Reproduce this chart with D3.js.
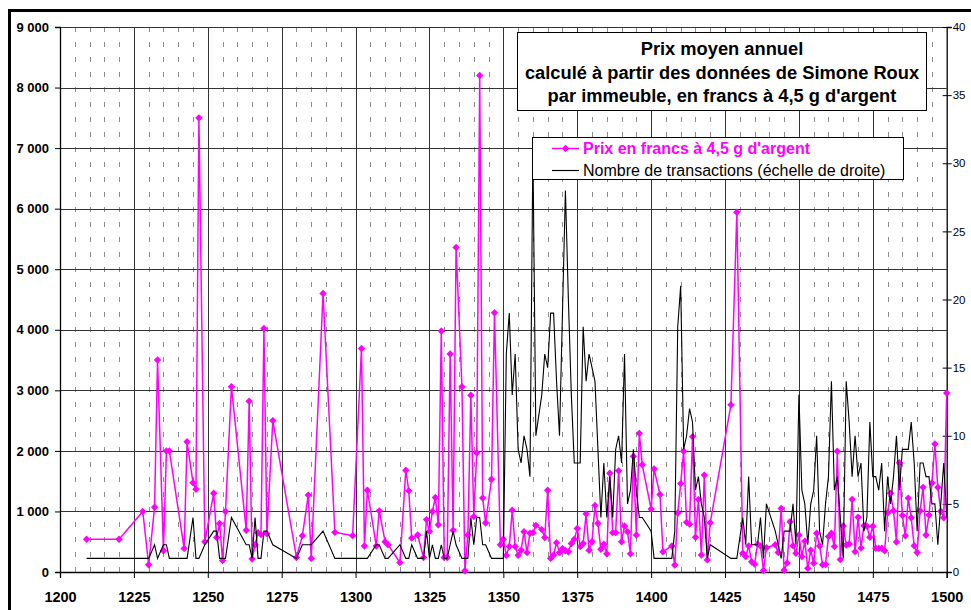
<!DOCTYPE html>
<html><head><meta charset="utf-8">
<script src="https://cdn.jsdelivr.net/npm/d3@7"></script>
<style>
body{margin:0;background:#fff;}
svg{display:block;font-family:"Liberation Sans",Arial,sans-serif;}
</style></head><body>
<svg id="chart" width="971" height="610"></svg>
<script>
const years  = [1209,1220,1228,1230,1232,1233,1235,1236,1237,1242,1243,1245,1246,1247,1249,1252,1253,1254,1255,1256,1258,1263,1264,1265,1266,1267,1268,1269,1270,1272,1280,1282,1284,1285,1289,1293,1299,
1302,1303,1304,1307,1308,1310,1311,1315,1317,1318,1319,1321,1323,1324,1325,1326,1327,1328,1329,1330,1331,1332,1333,1334,1336,1337,1338,1339,1340,1341,1342,1343,1344,1346,1347,1349,
1350,1351,1352,1353,1354,1355,1356,1357,1358,1359,1360,1361,1363,1364,1365,1366,1367,1368,1369,1370,1371,1372,1373,1374,1375,1376,1377,1378,1379,1380,1381,1382,1383,1384,1385,1386,1387,1388,1389,1390,1391,1392,1393,1394,1395,1396,1397,
1400,1401,1403,1404,1407,1408,1409,1410,1411,1412,1413,1414,1415,1416,1417,1418,1419,1420,1427,1429,1431,1432,1433,1434,1435,1436,1437,1438,1439,1442,1443,1444,1445,1446,1447,1448,1449,
1450,1451,1452,1453,1454,1455,1456,1457,1458,1459,1460,1461,1462,1463,1464,1465,1466,1467,1468,1469,1470,1471,1472,1473,1474,1475,1476,1477,1478,1479,1480,1481,1482,1483,1484,1485,1486,1487,1488,1489,1490,1491,1492,1493,1494,1495,1496,1497,1498,1499,1500];
const prices = [540,540,1000,120,1070,3500,350,2000,2000,390,2150,1475,1365,7500,500,1300,570,800,190,1000,3060,690,2820,215,450,650,620,4020,630,2500,240,600,1270,225,4600,655,600,
3690,430,1350,430,1010,500,450,155,1680,1340,560,610,240,865,670,1000,1230,780,3980,240,240,3600,690,5360,3060,20,610,2920,915,1970,8200,1220,810,1530,4280,450,
540,275,420,1020,420,275,360,665,320,640,650,770,700,570,1350,225,280,485,320,390,350,335,470,540,720,420,470,960,360,500,1100,800,375,460,300,1630,650,650,1670,500,760,665,300,1910,610,2290,1770,
1040,1700,1280,335,430,115,975,1460,1995,820,790,2235,575,1200,280,1600,200,815,2760,5940,310,255,430,170,130,460,430,25,400,450,320,1050,30,150,830,435,308,
610,255,510,60,360,145,640,430,120,125,585,640,420,1995,205,760,446,462,1200,336,903,395,765,755,575,755,391,391,391,352,975,1300,1012,495,1805,935,597,1220,895,434,322,1010,1398,611,941,1470,2113,1398,1004,895,2955];
const counts = [1,1,1,1,2,1,2,2,1,1,1,4,1,1,2,3,3,1,1,1,4,2,2,1,4,1,1,3,3,2,1,2,2,2,3,1,1,
1,1,1,2,2,1,1,2,1,1,2,1,1,3,1,2,1,1,2,1,1,2,3,2,1,1,1,4,2,4,4,2,2,1,1,1,
1,16,19,13,16,9,8,10,9,7,31,10,13,16,15,19,19,14,10,19,28,20,13,8,8,8,18,14,16,15,14,9,4,8,4,7,4,9,10,8,16,5,6,9,6,4,4,
3,1,1,1,1,3,18,21,9,10,12,11,6,7,5,4,1,2,1,1,4,2,7,2,2,2,4,1,5,3,2,1,3,3,3,5,2,
13,6,5,2,5,6,10,3,2,5,7,14,6,7,4,1,14,11,7,10,7,8,3,4,11,7,7,6,8,3,7,5,7,10,6,9,9,9,11,8,3,8,8,7,7,5,5,2,5,8,4];
const yearTicks = [1200,1225,1250,1275,1300,1325,1350,1375,1400,1425,1450,1475,1500];
const priceTicks = [0,1000,2000,3000,4000,5000,6000,7000,8000,9000];
const countTicks = [0,5,10,15,20,25,30,35,40];
const titleLines = ["Prix moyen annuel","calculé à partir des données de Simone Roux","par immeuble, en francs à 4,5 g d'argent"];
const legendLabels = ["Prix en francs à 4,5 g d'argent","Nombre de transactions (échelle de droite)"];

const W = 971, H = 610;
const L = 60, R = 946.7, T = 27, B = 572;
const MAG = "#ff00ff";
const svg = d3.select("#chart");
svg.append("rect").attr("width", W).attr("height", H).attr("fill", "#fff");

const x = d3.scaleLinear().domain([1200, 1500]).range([L, R]);
const y = d3.scaleLinear().domain([0, 9000]).range([B, T]);
const y2 = d3.scaleLinear().domain([0, 40]).range([B, T]);
const fr = d3.formatLocale({decimal: ",", thousands: "\u00a0", grouping: [3], currency: ["", ""]});
const fmt = fr.format(",");

// minor dashed verticals every 5 years
const minor = d3.range(1205, 1500, 5).filter(v => v % 25 !== 0);
svg.append("g").selectAll("line").data(minor).join("line")
  .attr("x1", d => Math.round(x(d)) + 0.5).attr("x2", d => Math.round(x(d)) + 0.5)
  .attr("y1", T).attr("y2", B)
  .attr("stroke", "#8c8c8c").attr("stroke-width", 1).attr("stroke-dasharray", "5,10");
// major verticals
svg.append("g").selectAll("line").data(yearTicks.slice(1, -1)).join("line")
  .attr("x1", d => Math.round(x(d)) + 0.5).attr("x2", d => Math.round(x(d)) + 0.5)
  .attr("y1", T).attr("y2", B).attr("stroke", "#333").attr("stroke-width", 1);
// horizontal gridlines
svg.append("g").selectAll("line").data(priceTicks.slice(1)).join("line")
  .attr("x1", L).attr("x2", R)
  .attr("y1", d => Math.round(y(d)) + 0.5).attr("y2", d => Math.round(y(d)) + 0.5)
  .attr("stroke", "#333").attr("stroke-width", 1);

// axes
const gL = svg.append("g").attr("transform", `translate(${L},0)`)
  .call(d3.axisLeft(y).tickValues(priceTicks).tickFormat(fmt).tickSize(5).tickPadding(6));
gL.selectAll("text").attr("font-size", 13).attr("font-weight", "bold").attr("fill", "#000")
  .attr("font-family", "Liberation Sans, Arial, sans-serif");
const gB = svg.append("g").attr("transform", `translate(0,${B})`)
  .call(d3.axisBottom(x).tickValues(yearTicks).tickFormat(d3.format("d")).tickSize(6).tickPadding(13.5));
gB.selectAll("text").attr("font-size", 14.5).attr("font-weight", "bold").attr("fill", "#000")
  .attr("font-family", "Liberation Sans, Arial, sans-serif");
const gR = svg.append("g").attr("transform", `translate(${R},0)`)
  .call(d3.axisRight(y2).tickValues(countTicks).tickSize(5).tickPadding(1));
gR.selectAll(".tick line").attr("x1", -4);
gR.selectAll("text").attr("font-size", 11.5).attr("fill", "#000")
  .attr("font-family", "Liberation Sans, Arial, sans-serif");
[gL, gB, gR].forEach(g => { g.select(".domain").attr("stroke", "#000").attr("stroke-width", 1.3); g.selectAll(".tick line").attr("stroke", "#000"); });

const data = years.map((yr, i) => ({yr, p: prices[i], c: counts[i]}));

// price series
svg.append("path").datum(data)
  .attr("d", d3.line().x(d => x(d.yr)).y(d => y(d.p)))
  .attr("fill", "none").attr("stroke", MAG).attr("stroke-width", 1.5).attr("stroke-linejoin", "round");
const dia = "M0,-3.7L3.7,0L0,3.7L-3.7,0Z";
svg.append("g").selectAll("path").data(data).join("path")
  .attr("d", dia).attr("transform", d => `translate(${x(d.yr)},${y(d.p)})`).attr("fill", MAG);

// count series
svg.append("path").datum(data)
  .attr("d", d3.line().x(d => x(d.yr)).y(d => y2(d.c)))
  .attr("fill", "none").attr("stroke", "#000").attr("stroke-width", 1.1).attr("stroke-linejoin", "miter");

// title box
const tb = svg.append("g");
tb.append("rect").attr("x", 517.5).attr("y", 32.5).attr("width", 409).attr("height", 78)
  .attr("fill", "#fff").attr("stroke", "#000").attr("stroke-width", 1);
tb.selectAll("text").data(titleLines).join("text")
  .attr("x", 722).attr("y", (d, i) => 55 + i * 23.5).attr("text-anchor", "middle")
  .attr("font-size", 18.3).attr("font-weight", "bold").attr("fill", "#000").text(d => d);

// legend
const lg = svg.append("g");
lg.append("rect").attr("x", 532.5).attr("y", 137.5).attr("width", 371).attr("height", 42)
  .attr("fill", "#fff").attr("stroke", "#000").attr("stroke-width", 1);
lg.append("line").attr("x1", 552).attr("x2", 579).attr("y1", 148.5).attr("y2", 148.5)
  .attr("stroke", MAG).attr("stroke-width", 1.5);
lg.append("path").attr("d", dia).attr("transform", "translate(565.5,148.5)").attr("fill", MAG);
lg.append("line").attr("x1", 552).attr("x2", 579).attr("y1", 170.5).attr("y2", 170.5)
  .attr("stroke", "#000").attr("stroke-width", 1.2);
lg.append("text").attr("x", 583).attr("y", 154).attr("font-size", 16).attr("font-weight", "bold")
  .attr("fill", MAG).text(legendLabels[0]);
lg.append("text").attr("x", 583).attr("y", 176).attr("font-size", 16)
  .attr("fill", "#000").text(legendLabels[1]);

// outer frame
svg.append("rect").attr("x", 9.5).attr("y", 10.5).attr("width", 1000).attr("height", 1000)
  .attr("fill", "none").attr("stroke", "#000").attr("stroke-width", 3);
</script>
</body></html>
